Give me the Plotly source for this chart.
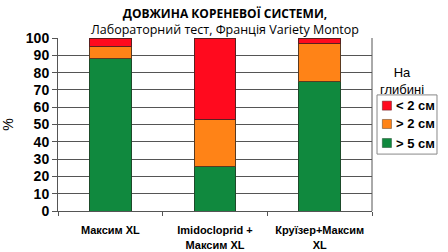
import plotly.graph_objects as go

categories = ["Максим XL", "Imidocloprid +<br>Максим XL", "Круїзер+Максим<br>XL"]
over_5cm = [88, 26, 75]
over_2cm = [7, 27, 22]
under_2cm = [5, 47, 3]
y_ticks = list(range(0, 101, 10))

series = [
    ("> 5 см", over_5cm, "#10893e", "#1d4a2a"),
    ("> 2 см", over_2cm, "#ff8317", "#5a3a20"),
    ("< 2 см", under_2cm, "#ff0a1e", "#5a2020"),
]

fig = go.Figure()
for name, vals, color, edge in series:
    fig.add_trace(go.Bar(x=categories, y=vals, name=name,
                         marker=dict(color=color, line=dict(color=edge, width=1))))

fig.update_layout(
    barmode="stack",
    bargap=0.6,
    width=448, height=252,
    margin=dict(l=58, r=76, t=38, b=41, autoexpand=False),
    paper_bgcolor="white", plot_bgcolor="white",
    font=dict(family="Liberation Sans, Arial", color="black"),
    showlegend=False,
    xaxis=dict(showline=True, linecolor="#555555", linewidth=1,
               ticks="outside", tickson="boundaries", ticklen=4, tickcolor="#555555",
               ticklabelstandoff=9,
               tickfont=dict(size=11, family="Liberation Sans, Arial"),
               mirror=False),
    yaxis=dict(range=[0, 100], tickvals=y_ticks, showgrid=True,
               gridcolor="#555555", gridwidth=1,
               showline=True, linecolor="#555555", linewidth=1,
               ticks="outside", ticklen=5, tickcolor="#555555",
               tickfont=dict(size=14, family="Liberation Sans, Arial"),
               title=dict(text="%", font=dict(size=14), standoff=12)),
)

# bold tick labels
fig.update_xaxes(ticktext=[f"<b>{c}</b>" for c in categories], tickvals=categories)
fig.update_yaxes(ticktext=[f"<b>{v}</b>" for v in y_ticks])

# right frame edge of the plot area
fig.add_shape(type="line", xref="paper", yref="paper", x0=1, x1=1, y0=0, y1=1,
              line=dict(color="#555555", width=1))

# title and subtitle
fig.add_annotation(
    text="<b>ДОВЖИНА КОРЕНЕВОЇ СИСТЕМИ,</b><br>"
         "<span style='font-size:12.5px'>Лабораторний тест, Франція Variety Montop</span>",
    xref="paper", yref="paper", x=0.532, y=1.0, yshift=-2,
    yanchor="bottom", xanchor="center", showarrow=False,
    font=dict(size=12, family="Open Sans, Liberation Sans"))

# legend: heading, frame, swatches and labels
fig.add_annotation(text="На<br>глибині", xref="paper", yref="paper",
                   x=1.096, y=0.647, yanchor="bottom", xanchor="center", showarrow=False,
                   font=dict(size=13, family="Liberation Sans, Arial"))
fig.add_shape(type="rect", xref="paper", yref="paper", x0=1.016, x1=1.207, y0=0.329, y1=0.671,
              line=dict(color="#888888", width=1), fillcolor="white", layer="above")
legend_rows = [0.609, 0.503, 0.393]
for (name, _, color, edge), yc in zip(reversed(series), legend_rows):
    fig.add_shape(type="rect", xref="paper", yref="paper",
                  x0=1.033, x1=1.062, y0=yc - 0.026, y1=yc + 0.026,
                  fillcolor=color, line=dict(color=edge, width=0.5), layer="above")
    fig.add_annotation(text=f"<b>{name}</b>", xref="paper", yref="paper",
                       x=1.070, y=yc, xanchor="left", yanchor="middle", showarrow=False,
                       font=dict(size=13, family="Liberation Sans, Arial"))

fig.write_html("out.html")
